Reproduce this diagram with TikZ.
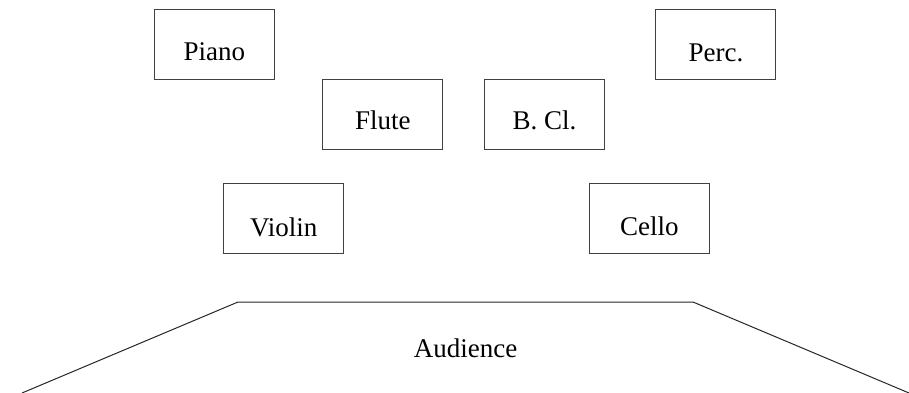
\documentclass[tikz,border=0pt]{standalone}
\usepackage{fontspec}
\setmainfont{Liberation Serif}
\begin{document}
\begin{tikzpicture}[x=1pt,y=-1pt,
  font=\fontsize{27}{32}\selectfont,
  instbox/.style={draw={rgb,255:red,64;green,64;blue,64}, line width=1.1pt,
    inner sep=0pt, minimum width=120pt, minimum height=70pt,
    text height=51pt, text depth=19pt, align=center},
  stageline/.style={draw=black!85, line width=1pt, line join=miter}]
\useasboundingbox (0,0) rectangle (909,393);
\node[instbox, text height=51.7pt, text depth=18.3pt] (piano)  at (214.3,44.3)  {Piano};
\node[instbox, text height=50pt, text depth=20pt]     (flute)  at (382.9,114.5) {Flute};
\node[instbox, text height=50pt, text depth=20pt]     (bcl)    at (544.6,114.5) {B.\ Cl.};
\node[instbox, text height=51.7pt, text depth=18.3pt] (perc)   at (715.9,44.5)  {Perc.};
\node[instbox, text height=52.5pt, text depth=17.5pt] (violin) at (283.7,218.5) {Violin};
\node[instbox, text height=52pt, text depth=18pt]     (cello)  at (649.3,218.5) {Cello};
\node[anchor=base, inner sep=0pt] (aud) at (465.5,357.7) {Audience};
\draw[stageline] (22,393) -- (238,302) -- (693,302) -- (909,393);
\end{tikzpicture}
\end{document}
